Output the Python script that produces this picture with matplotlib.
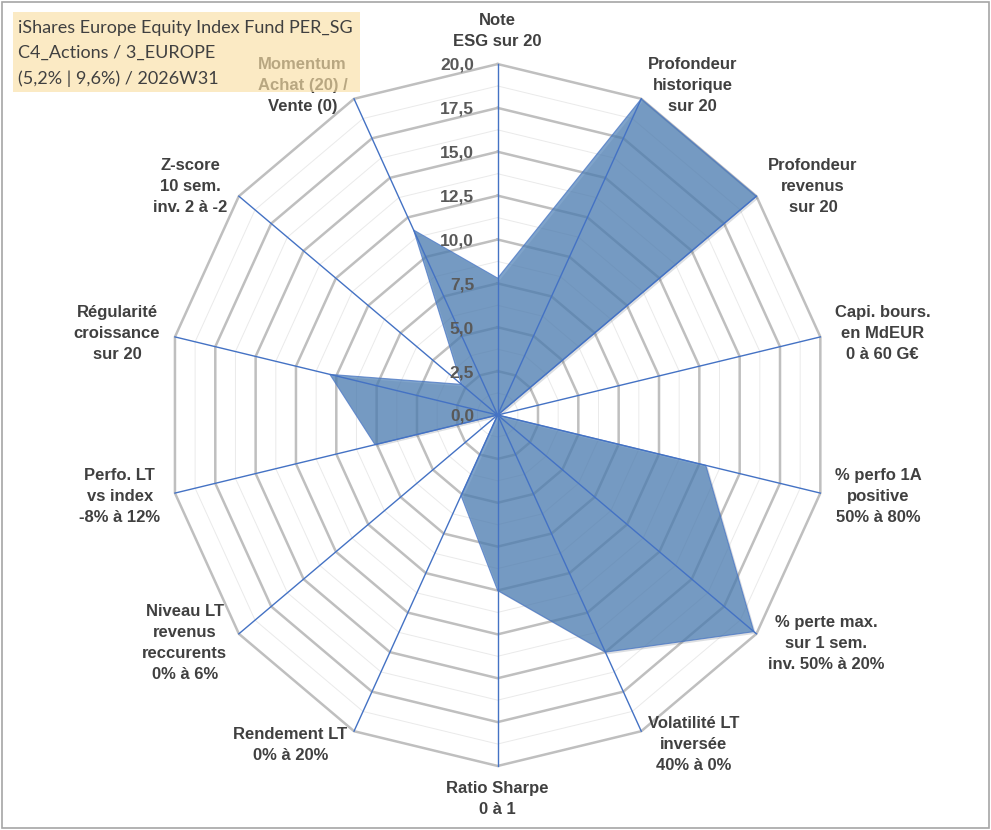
import numpy as np
import matplotlib.pyplot as plt
from matplotlib.patches import Rectangle
from matplotlib import patheffects as pe

# axes of the radar, clockwise from the top
labels = [
    "Note\nESG sur 20",
    "Profondeur\nhistorique\nsur 20",
    "Profondeur\nrevenus\nsur 20",
    "Capi. bours.\nen MdEUR\n0 à 60 G€",
    "% perfo 1A\npositive\n50% à 80%",
    "% perte max.\nsur 1 sem.\ninv. 50% à 20%",
    "Volatilité LT\ninversée\n40% à 0%",
    "Ratio Sharpe\n0 à 1",
    "Rendement LT\n0% à 20%",
    "Niveau LT\nrevenus\nreccurents\n0% à 6%",
    "Perfo. LT\nvs index\n-8% à 12%",
    "Régularité\ncroissance\nsur 20",
    "Z-score\n10 sem.\ninv. 2 à -2",
    "Momentum\nAchat (20) /\nVente (0)",
]
values = [7.8, 20.0, 20.0, 0.0, 12.9, 19.8, 15.0, 10.0, 5.1, 0.0, 7.6, 10.4, 2.8, 11.7]
ticks = [0.0, 2.5, 5.0, 7.5, 10.0, 12.5, 15.0, 17.5, 20.0]
title = "iShares Europe Equity Index Fund PER_SG\nC4_Actions / 3_EUROPE\n(5,2% | 9,6%) / 2026W31"

rmax = ticks[-1]
n = len(labels)
theta = 2 * np.pi * np.arange(n) / n
sx, cy = np.sin(theta), np.cos(theta)
vals = np.array(values)

fig = plt.figure(figsize=(9.91, 8.30), dpi=100)
ax = fig.add_axes([0, 0, 1, 1])
ax.set_xlim(-30.07, 29.81)
ax.set_ylim(-23.65, 23.65)
ax.axis('off')

def ring(r, **kw):
    ax.plot(np.append(r * sx, r * sx[0]), np.append(r * cy, r * cy[0]), **kw)

# minor and major polygon grid
for r in np.arange(1.25, rmax, 2.5):
    ring(r, color='#EAEAEA', lw=0.7, zorder=1)
for r in ticks[1:]:
    ring(r, color='#BFBFBF', lw=1.8, zorder=2)

# filled series
ax.fill(vals * sx, vals * cy, facecolor=(78/255, 128/255, 182/255), alpha=0.72,
        edgecolor='#4472C4', lw=0.8, zorder=3,
        path_effects=[pe.SimplePatchShadow(offset=(1.5, -1.5), alpha=0.15), pe.Normal()])

# spokes
for i in range(n):
    ax.plot([0, rmax * sx[i]], [0, rmax * cy[i]], color='#4472C4', lw=1.0, zorder=4)

# radial tick labels
for t in ticks:
    ax.annotate(f"{t:.1f}".replace('.', ','), xy=(0, t), xytext=(-17, -1),
                textcoords='offset points', ha='right', va='center',
                fontsize=12.5, fontweight='bold', color='#595959',
                family='Liberation Sans', zorder=6)

# category labels
for i, lab in enumerate(labels):
    s, c = sx[i], cy[i]
    if abs(s) < 0.01:
        ha = 'center'
        va = 'bottom' if c > 0 else 'top'
    else:
        ha = 'left' if s > 0 else 'right'
        va = 'center'
    ax.annotate(lab, xy=(rmax * s, rmax * c), xytext=(10.8 * s, 10.8 * c),
                textcoords='offset points', ha=ha, va=va, multialignment='center',
                fontsize=12, fontweight='bold', color='#404040',
                family='Liberation Sans', linespacing=1.5, zorder=6)

# title box (semi-transparent, over the chart)
fig.add_artist(Rectangle((12.7 / 991, 1 - 91.7 / 830), 347.3 / 991, 80 / 830,
                         transform=fig.transFigure, facecolor='#FADFA5', alpha=0.65,
                         edgecolor='none', zorder=5))
fig.text(18 / 991, 1 - 53.3 / 830, title, ha='left', va='center', fontsize=13,
         family='Lato', color='#404040', linespacing=1.7, zorder=7)

# chart border
fig.add_artist(Rectangle((0.002, 0.002), 0.996, 0.996, transform=fig.transFigure,
                         fill=False, edgecolor='#A6A6A6', lw=1.2, zorder=8))

fig.savefig('out.png', dpi=100)
